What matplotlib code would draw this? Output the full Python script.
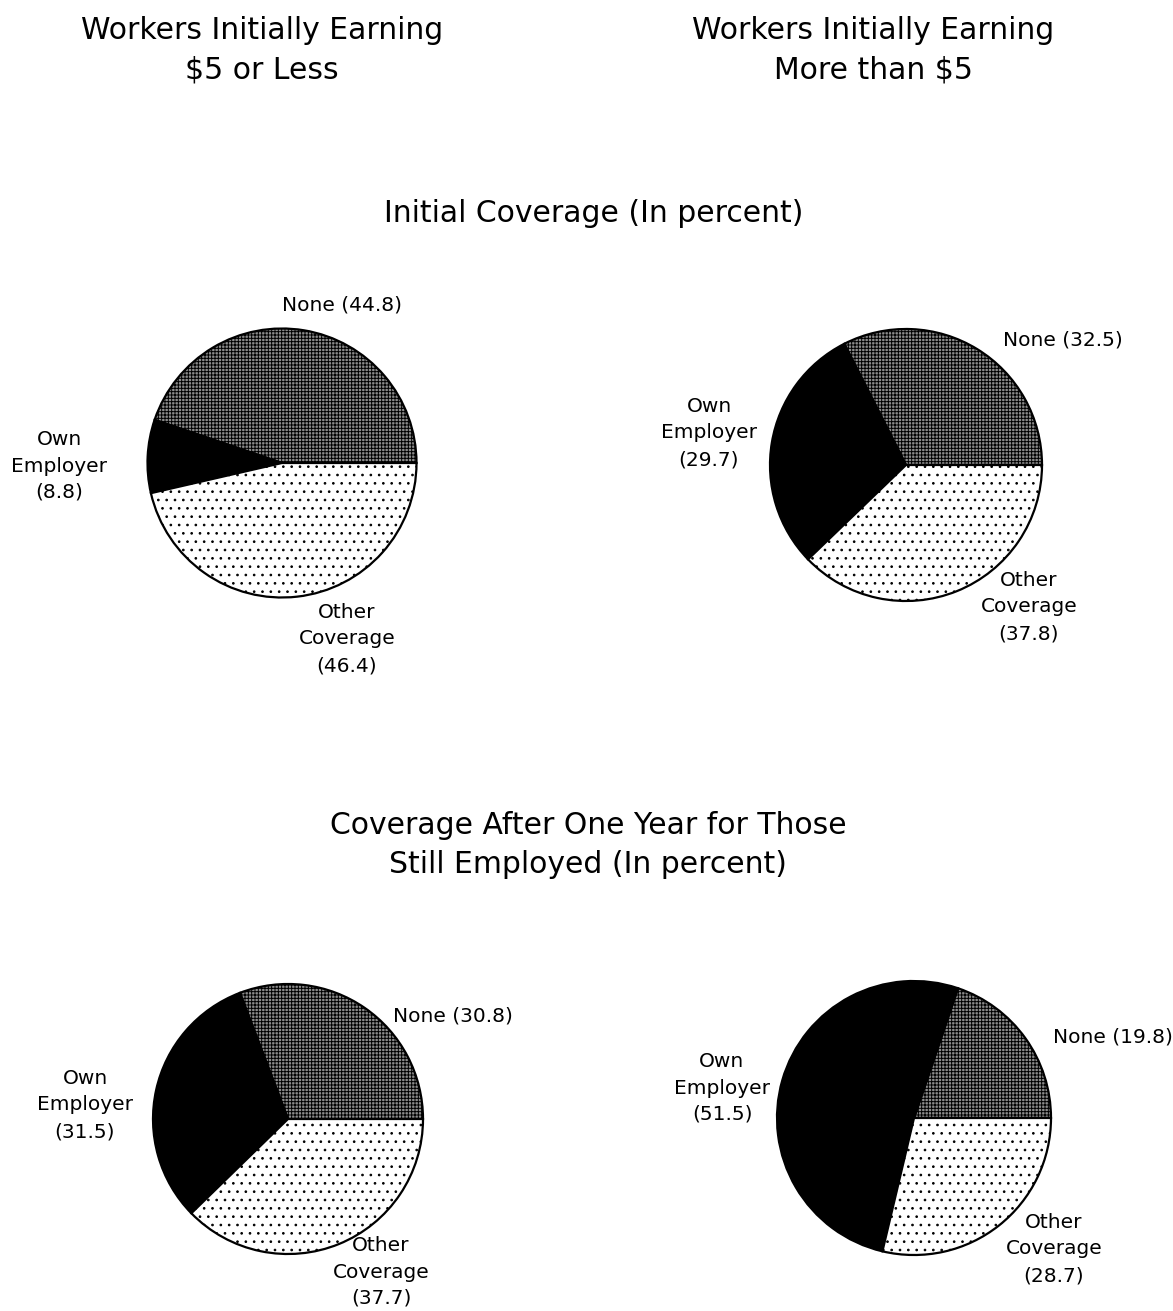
import matplotlib
matplotlib.use("Agg")
import matplotlib.pyplot as plt

W, H = 1173, 1311

categories = ["None", "Own Employer", "Other Coverage"]
pie1_values = [44.8, 8.8, 46.4]   # initial, $5 or less
pie2_values = [32.5, 29.7, 37.8]  # initial, more than $5
pie3_values = [30.8, 31.5, 37.7]  # after one year, $5 or less
pie4_values = [19.8, 51.5, 28.7]  # after one year, more than $5

col_titles = ["Workers Initially Earning\n$5 or Less", "Workers Initially Earning\nMore than $5"]
row_titles = ["Initial Coverage (In percent)",
              "Coverage After One Year for Those\nStill Employed (In percent)"]

plt.rcParams['font.family'] = ['DejaVu Sans']
plt.rcParams['hatch.linewidth'] = 0.7

fig = plt.figure(figsize=(W / 100, H / 100), dpi=100)
ax = fig.add_axes([0, 0, 1, 1])

def Y(py):
    return H - py

fills = [dict(facecolor="#8c8c8c", hatch="+++++"),
         dict(facecolor="black"),
         dict(facecolor="white", hatch="..")]

label_fmt = ["None ({:.1f})", "Own\nEmployer\n({:.1f})", "Other\nCoverage\n({:.1f})"]

pies = [
    (pie1_values, (282, 463), 134.5, [(342, 305), (59, 466), (347, 639)]),
    (pie2_values, (906, 465), 136, [(1063, 340), (709, 433), (1029, 607)]),
    (pie3_values, (288, 1119), 135, [(453, 1016), (85, 1105), (381, 1272)]),
    (pie4_values, (914, 1118), 137, [(1113, 1037), (722, 1088), (1054, 1249)]),
]

for vals, (cx, cy), r, label_pos in pies:
    wedges, _ = ax.pie(vals, center=(cx, Y(cy)), radius=r, startangle=0,
                       counterclock=True,
                       wedgeprops=dict(edgecolor="black", linewidth=1.6))
    for w, f in zip(wedges, fills):
        w.set_facecolor(f["facecolor"])
        if "hatch" in f:
            w.set_hatch(f["hatch"])
    for (lx, ly), fmt, v in zip(label_pos, label_fmt, vals):
        ax.text(lx, Y(ly), fmt.format(v), ha="center", va="center",
                fontsize=14.5, linespacing=1.5, color="black")

ax.set_xlim(0, W)
ax.set_ylim(0, H)
ax.set_aspect("equal")
ax.axis("off")

ax.text(262, Y(50), col_titles[0], ha="center", va="center", fontsize=21.5, linespacing=1.45)
ax.text(873, Y(50), col_titles[1], ha="center", va="center", fontsize=21.5, linespacing=1.45)
ax.text(594, Y(213), row_titles[0], ha="center", va="center", fontsize=21.5)
ax.text(588, Y(845), row_titles[1], ha="center", va="center", fontsize=21.5, linespacing=1.45)

fig.savefig("out.png", dpi=100, facecolor="white")
